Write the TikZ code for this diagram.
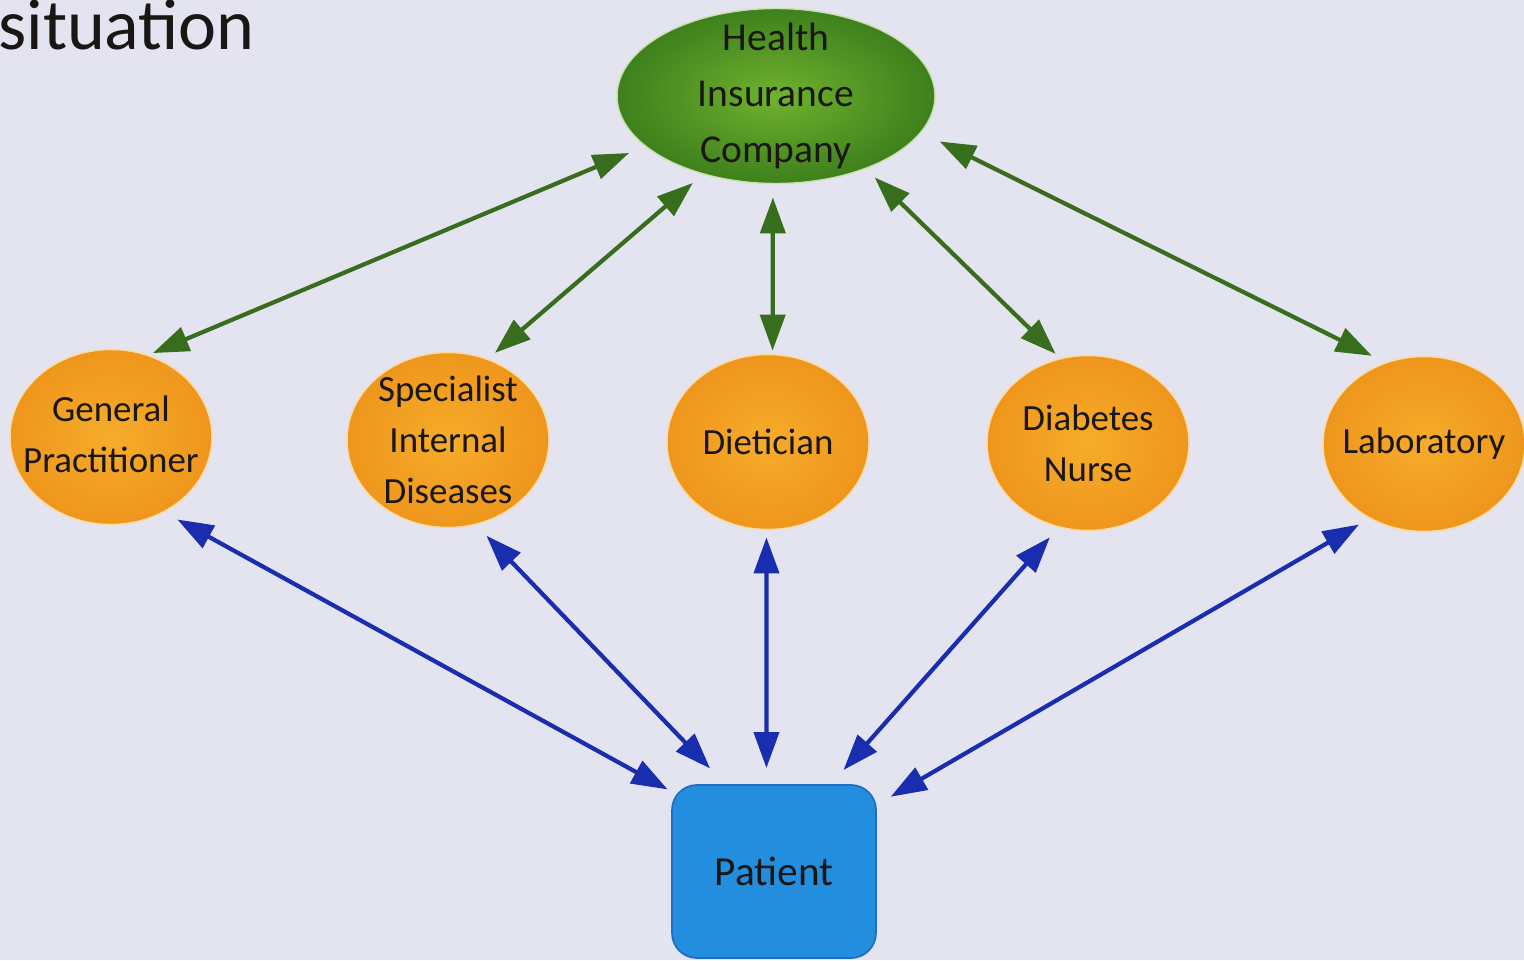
\documentclass[tikz,border=0pt]{standalone}
\usepackage{fontspec}
\setmainfont{Carlito}
\usetikzlibrary{shapes.geometric,arrows.meta}
\definecolor{bg}{RGB}{228,227,240}
\definecolor{hicin}{RGB}{112,178,46}
\definecolor{hicout}{RGB}{62,128,28}
\definecolor{orin}{RGB}{247,172,42}
\definecolor{orout}{RGB}{238,150,28}
\definecolor{patfill}{RGB}{36,142,222}
\definecolor{patedge}{RGB}{26,112,200}
\definecolor{gline}{RGB}{55,110,30}
\definecolor{bline}{RGB}{25,45,175}
\definecolor{txt}{RGB}{25,22,20}
\tikzset{
  hicnode/.style={ellipse, minimum width=6.36cm, minimum height=3.5cm, inner sep=-2cm, outer sep=0pt,
    shading=radial, inner color=hicin, outer color=hicout, draw=white!60!hicin, line width=0.8pt,
    text=txt, align=center, font=\fontsize{22.5}{32}\selectfont},
  carer/.style={ellipse, minimum width=4.04cm, minimum height=3.5cm, inner sep=-2cm, outer sep=0pt,
    shading=radial, inner color=orin, outer color=orout, draw=white!55!orin, line width=0.8pt,
    text=txt, align=center, font=\fontsize{21}{29}\selectfont},
  patnode/.style={rectangle, rounded corners=0.5cm, minimum width=4.08cm, minimum height=3.46cm,
    inner sep=0pt, outer sep=0pt, fill=patfill, draw=patedge, line width=1pt,
    text=txt, font=\fontsize{23.5}{30}\selectfont},
  garrow/.style={draw=gline, line width=2.4pt, {Triangle[length=0.72cm,width=0.5cm]}-{Triangle[length=0.72cm,width=0.5cm]}},
  barrow/.style={draw=bline, line width=2.4pt, {Triangle[length=0.72cm,width=0.5cm]}-{Triangle[length=0.72cm,width=0.5cm]}},
}
\begin{document}
\begin{tikzpicture}[x=0.02cm,y=-0.02cm]
\fill[bg] (0,0) rectangle (1524,960);
\useasboundingbox (0,0) rectangle (1524,960);

\node[anchor=base west, inner sep=0pt, text=txt, font=\fontsize{41}{48}\selectfont] (title) at (-2,50) {situation};

\node[hicnode] (hic) at (776,96) {Health\\Insurance\\Company};
\node[carer] (gp) at (111,437) {\raisebox{4pt}{\begin{tabular}{@{}c@{}}General\\Practitioner\end{tabular}}};
\node[carer] (sp) at (448,440) {Specialist\\Internal\\Diseases};
\node[carer] (di) at (768,442) {Dietician};
\node[carer] (dn) at (1088,443) {Diabetes\\Nurse};
\node[carer] (lab) at (1424,444) {Laboratory};
\node[patnode] (pat) at (774,871.5) {Patient};

\draw[garrow, shorten <=0.36cm, shorten >=0.12cm] (hic.201) -- (gp.66);
\draw[garrow, shorten <=0.28cm, shorten >=0.2cm] (hic.227) -- (sp.64);
\draw[garrow, shorten <=0.28cm, shorten >=0.08cm] (hic.268) -- (di.87);
\draw[garrow, shorten <=0.26cm, shorten >=0.14cm] (hic.321) -- (dn.108);
\draw[garrow, shorten <=0.42cm, shorten >=0.32cm] (hic.346) -- (lab.115);

\draw[barrow, shorten <=0.32cm, shorten >=0.1cm] (gp.305) -- (pat.142);
\draw[barrow, shorten <=0.32cm, shorten >=0.46cm] (sp.288) -- (pat.119);
\draw[barrow, shorten <=0.16cm, shorten >=0.34cm] (di.269) -- (pat.95);
\draw[barrow, shorten <=0.28cm, shorten >=0.4cm] (dn.251) -- (pat.57);
\draw[barrow, shorten <=0.26cm, shorten >=0.34cm] (lab.234) -- (pat.33);
\end{tikzpicture}
\end{document}
